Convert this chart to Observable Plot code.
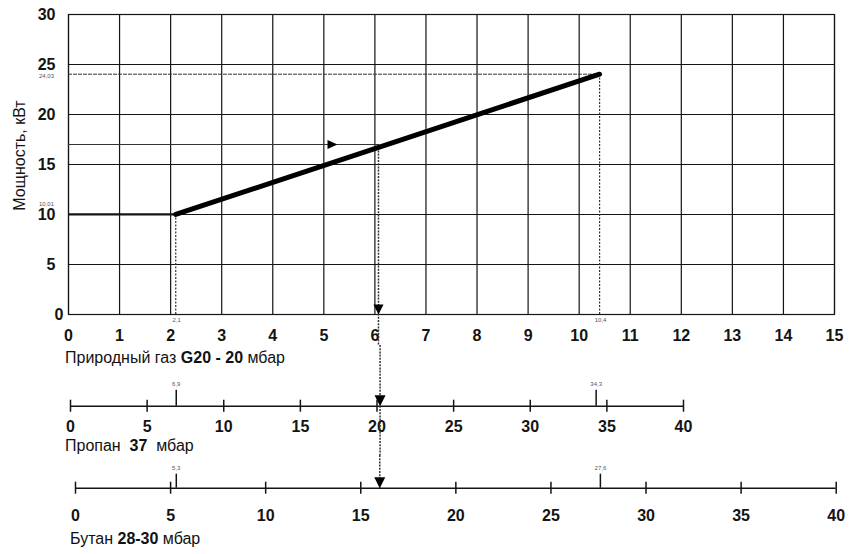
<!DOCTYPE html>
<html><head><meta charset="utf-8">
<script src="https://cdn.jsdelivr.net/npm/d3@7"></script>
<script src="https://cdn.jsdelivr.net/npm/@observablehq/plot@0.6"></script>
<style>
body{margin:0;background:#fff;}
#wrap{position:relative;width:855px;height:554px;overflow:hidden;font-family:"Liberation Sans",Arial,sans-serif;background:#fff;}
.panel{position:absolute;left:0;}
.cap{position:absolute;font-size:16px;color:#111;white-space:nowrap;line-height:1;}
.cap b{font-weight:bold;}
</style></head><body>
<div id="wrap">
  <div class="panel" id="main" style="top:0"></div>
  <div class="panel" id="propane" style="top:345px"></div>
  <div class="panel" id="butane" style="top:455px"></div>
  <div class="cap" id="capGas" style="left:65px;top:350px"></div>
  <div class="cap" id="capProp" style="left:65px;top:438px"></div>
  <div class="cap" id="capBut" style="left:70px;top:531px"></div>
</div>
<script>
// ---- data ----
const mainXTicks = [0,1,2,3,4,5,6,7,8,9,10,11,12,13,14,15];
const mainYTicks = [0,5,10,15,20,25,30];
const yLabel = "Мощность, кВт";
const gasPressure = [2.1, 10.4];      // мбар, природный газ
const gasPower = [10.01, 24.03];      // кВт
const readPower = 17;                 // кВт
const readGas = 6.07;                 // мбар
const readArrowX = 5.17;
const propaneTicks = [0,5,10,15,20,25,30,35,40];
const propaneMarks = [6.9, 34.3];
const propaneRead = 20.2;
const butaneTicks = [0,5,10,15,20,25,30,35,40];
const butaneMarks = [5.3, 27.6];
const butaneRead = 16.0;
const capGas = ["Природный газ ", "G20 - 20", " мбар"];
const capProp = ["Пропан  ", "37", "  мбар"];
const capBut = ["Бутан ", "28-30", " мбар"];

const fmt = v => String(v).replace(".", ",");
const powerPts = gasPressure.map((p, i) => ({pressure: p, power: gasPower[i], pl: fmt(p), wl: fmt(gasPower[i].toFixed(2))}));

const triDown = {draw(ctx, size){const s = Math.sqrt(size/Math.PI); ctx.moveTo(-s,-s); ctx.lineTo(s,-s); ctx.lineTo(0,s); ctx.closePath();}};
const triRight = {draw(ctx, size){const s = Math.sqrt(size/Math.PI); ctx.moveTo(-s,-s*0.9); ctx.lineTo(s,0); ctx.lineTo(-s,s*0.9); ctx.closePath();}};

const INK = "#141414";
const FONT = "'Liberation Sans', Arial, sans-serif";

// ---- main chart ----
const main = Plot.plot({
  width: 855, height: 345,
  marginLeft: 68, marginRight: 21, marginTop: 14, marginBottom: 31,
  x: {domain: [0, 15]},
  y: {domain: [0, 30]},
  style: {fontFamily: FONT, fontSize: "16px", color: INK, background: "transparent"},
  marks: [
    Plot.gridX(mainXTicks, {stroke: INK, strokeOpacity: 1, strokeWidth: 1.2}),
    Plot.gridY(mainYTicks, {stroke: INK, strokeOpacity: 1, strokeWidth: 1.2}),
    Plot.frame({stroke: INK, strokeWidth: 1.2}),
    Plot.axisX(mainXTicks, {tickSize: 0, tickPadding: 15, fontWeight: "bold", fontSize: 16, label: null}),
    Plot.axisY(mainYTicks.slice(1), {tickSize: 0, tickPadding: 13, fontWeight: "bold", fontSize: 16, label: null}),
    Plot.text([mainYTicks[0]], {x: 0, y: d => d, text: d => String(d), textAnchor: "end", dx: -5, fontWeight: "bold", fontSize: 16}),
    Plot.text([yLabel], {frameAnchor: "left", text: d => d, textAnchor: "middle", rotate: -90, dx: -49, dy: -9, fontSize: 16}),
    // reference lines
    Plot.ruleY(powerPts.slice(0,1), {y: "power", x1: 0, x2: "pressure", stroke: INK, strokeWidth: 2.3}),
    Plot.ruleY(powerPts.slice(1), {y: "power", x1: 0, x2: "pressure", stroke: "#333", strokeWidth: 1, strokeDasharray: "4,1"}),
    Plot.ruleX(powerPts, {x: "pressure", y1: 0, y2: "power", stroke: "#333", strokeWidth: 1.2, strokeDasharray: "2,1.5"}),
    Plot.ruleY([readPower], {x1: 0, x2: readGas, stroke: "#333", strokeWidth: 1}),
    Plot.ruleX([readGas], {y1: readPower, y2: -3.1, stroke: "#333", strokeWidth: 1.5, strokeDasharray: "2,1.2"}),
    Plot.line(powerPts, {x: "pressure", y: "power", stroke: "#000", strokeWidth: 5}),
    Plot.dot([readArrowX], {x: d => d, y: readPower, symbol: triRight, r: 5, fill: "#000", stroke: "none"}),
    Plot.dot([readGas], {x: d => d, y: 0, symbol: triDown, r: 5, dy: -5, fill: "#000", stroke: "none"}),
    // tiny value labels
    Plot.text(powerPts.slice(0,1), {x: 0, y: "power", text: "wl", dx: -22, dy: -10, fontSize: 6, fill: "#555"}),
    Plot.text(powerPts.slice(1), {x: 0, y: "power", text: "wl", dx: -22, dy: 2, fontSize: 6, fill: "#555"}),
    Plot.text(powerPts, {x: "pressure", y: 0, text: "pl", dx: 1, dy: 6, fontSize: 6, fill: "#555"})
  ]
});
document.getElementById("main").appendChild(main);

// ---- scale axis builder ----
function scaleAxis({ticks, marks, read, left, right, height, base, pad, up, through}) {
  return Plot.plot({
    width: 855, height,
    marginLeft: left, marginRight: right, marginTop: 0, marginBottom: height - base,
    x: {domain: [ticks[0], ticks[ticks.length - 1]]},
    y: {domain: [0, base], axis: null},
    style: {fontFamily: FONT, fontSize: "16px", color: INK, background: "transparent"},
    marks: [
      Plot.ruleY([0], {x1: ticks[0], x2: ticks[ticks.length - 1], stroke: INK, strokeWidth: 1.5}),
      Plot.ruleX(ticks, {x: d => d, y1: -6, y2: 6, stroke: INK, strokeWidth: 1.5}),
      Plot.ruleX(marks, {x: d => d, y1: 0, y2: up, stroke: INK, strokeWidth: 1.5}),
      Plot.text(marks, {x: d => d, y: up, text: d => fmt(d), dy: -6, fontSize: 6, fill: "#555"}),
      Plot.axisX(ticks, {tickSize: 0, tickPadding: pad, fontWeight: "bold", fontSize: 16, label: null}),
      Plot.ruleX([read], {x: d => d, y1: base, y2: through ? base - height : 0, stroke: "#333", strokeWidth: 1.5, strokeDasharray: "2,1.2"}),
      Plot.dot([read], {x: d => d, y: 0, symbol: triDown, r: 5.5, dy: -5.5, fill: "#000", stroke: "none"})
    ]
  });
}

document.getElementById("propane").appendChild(scaleAxis({ticks: propaneTicks, marks: propaneMarks, read: propaneRead, left: 70, right: 172, height: 110, base: 60.7, pad: 14, up: 16, through: true}));
document.getElementById("butane").appendChild(scaleAxis({ticks: butaneTicks, marks: butaneMarks, read: butaneRead, left: 75, right: 19.3, height: 99, base: 32.7, pad: 21, up: 14, through: false}));

// ---- captions ----
function cap(id, parts) {
  const el = document.getElementById(id);
  parts.forEach((t, i) => {
    const s = document.createElement(i === 1 ? "b" : "span");
    s.textContent = t;
    s.style.whiteSpace = "pre";
    el.appendChild(s);
  });
}
cap("capGas", capGas);
cap("capProp", capProp);
cap("capBut", capBut);
</script>
</body></html>
